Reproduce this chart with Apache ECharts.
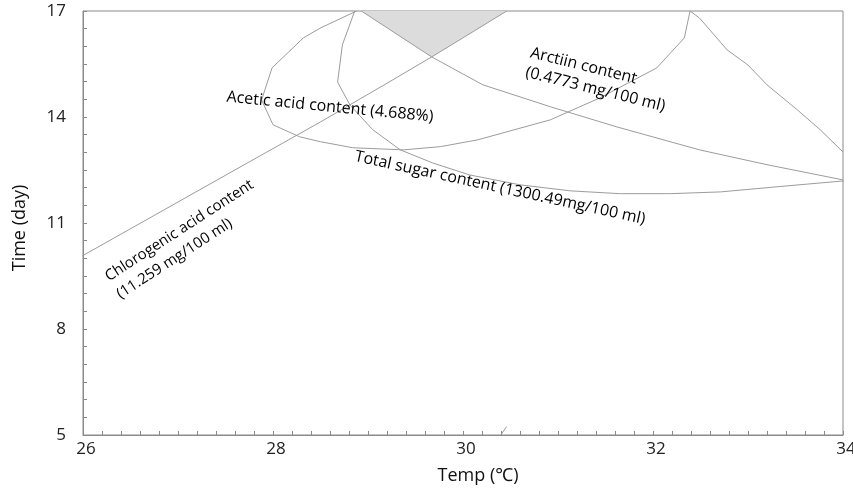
<!DOCTYPE html>
<html>
<head>
<meta charset="utf-8">
<script src="https://cdn.jsdelivr.net/npm/echarts@6/dist/echarts.min.js"></script>
<style>
html,body{margin:0;padding:0;background:#fff;}
#chart{width:853px;height:495px;}
</style>
</head>
<body>
<div id="chart"></div>
<script>
// Axis ticks
const xTickValues = [26, 28, 30, 32, 34];
const yTickValues = [5, 8, 11, 14, 17];

// Contour: Chlorogenic acid content (11.259 mg/100 ml)
const chloroTemp = [25.94, 27.79, 28.50, 29.26, 29.67, 30.00, 30.46];
const chloroDay  = [9.99, 12.79, 13.86, 15.05, 15.70, 16.24, 17.00];

// Contour: Arctiin content (0.4773 mg/100 ml)
const arctiinTemp = [28.93, 29.67, 30.21, 30.92, 31.62, 32.49, 33.20, 34.00];
const arctiinDay  = [17.00, 15.70, 14.91, 14.29, 13.72, 13.07, 12.65, 12.22];

// Contour: Acetic acid content (4.688%)
const aceticTemp = [28.88, 28.50, 28.32, 27.99, 27.88, 28.00, 28.28, 28.50, 28.84, 29.37, 29.76, 30.15, 30.92, 31.44, 32.04, 32.33, 32.39];
const aceticDay  = [17.00, 16.52, 16.24, 15.39, 14.48, 13.78, 13.44, 13.30, 13.13, 13.07, 13.16, 13.35, 13.92, 14.54, 15.39, 16.24, 17.00];

// Contour: right branch peak
const peakTemp = [32.39, 32.49, 32.78, 33.00, 33.20, 33.52, 33.76, 34.00];
const peakDay  = [17.00, 16.80, 15.90, 15.47, 14.91, 14.20, 13.64, 13.01];

// Contour: Total sugar content (1300.49mg/100 ml)
const sugarTemp = [28.86, 28.73, 28.68, 28.81, 29.05, 29.34, 29.68, 30.07, 30.60, 31.13, 31.65, 32.18, 32.71, 33.41, 34.00, 34.10];
const sugarDay  = [17.00, 16.04, 14.99, 14.34, 13.64, 13.07, 12.70, 12.36, 12.08, 11.91, 11.83, 11.83, 11.88, 12.05, 12.19, 12.21];

// Overlapping (optimal) region
const shadeTemp = [28.93, 30.46, 29.67];
const shadeDay  = [17.00, 17.00, 15.70];

// Small stray stroke at bottom
const strokeTemp = [30.40, 30.46];
const strokeDay  = [5.01, 5.24];

const pairs = (xs, ys) => xs.map((x, i) => [x, ys[i]]);
const lineColor = '#9c9c9c';
const fontFam = '"Open Sans", "Noto Sans", sans-serif';

function lineSeries(xs, ys, clip) {
  return {
    type: 'line', data: pairs(xs, ys), showSymbol: false, symbol: 'none',
    smooth: false, clip: clip, silent: true,
    lineStyle: { color: lineColor, width: 1 }, z: 3
  };
}

const chart = echarts.init(document.getElementById('chart'), null, { renderer: 'canvas' });
const deg = Math.PI / 180;

const option = {
  animation: false,
  backgroundColor: '#ffffff',
  grid: { left: 83, right: 10, top: 11, bottom: 60, show: true, borderColor: '#8a8a8a', borderWidth: 1,
          containLabel: false, outerBoundsMode: 'none' },
  xAxis: {
    type: 'value', min: 26, max: 34, interval: 2,
    name: 'Temp (\u2103)', nameLocation: 'middle', nameGap: 32,
    nameTextStyle: { fontSize: 18, color: '#111', fontFamily: fontFam, padding: [0, 0, 0, 30] },
    axisLine: { show: true, lineStyle: { color: '#8a8a8a', width: 1 } },
    axisTick: { show: true, inside: true, length: 4, lineStyle: { color: '#8a8a8a' } },
    minorTick: { show: true, splitNumber: 10, length: 4, lineStyle: { color: '#8a8a8a' } },
    splitLine: { show: false },
    axisLabel: {
      fontSize: 17, color: '#222', fontFamily: fontFam, margin: 6, padding: [0, 0, 0, 6],
      hideOverlap: false, showMinLabel: true, showMaxLabel: true,
      customValues: xTickValues
    }
  },
  yAxis: {
    type: 'value', min: 5, max: 17, interval: 3,
    name: 'Time (day)', nameLocation: 'middle', nameGap: 54, nameRotate: 90,
    nameTextStyle: { fontSize: 18, color: '#111', fontFamily: fontFam, padding: [0, 10, 0, 0] },
    axisLine: { show: true, lineStyle: { color: '#8a8a8a', width: 1 } },
    axisTick: { show: true, inside: true, length: 4, lineStyle: { color: '#8a8a8a' } },
    minorTick: { show: true, splitNumber: 6, length: 4, lineStyle: { color: '#8a8a8a' } },
    splitLine: { show: false },
    axisLabel: {
      fontSize: 17, color: '#222', fontFamily: fontFam, margin: 17, padding: [6, 0, 0, 0],
      customValues: yTickValues
    }
  },
  series: [
    {
      type: 'custom', silent: true, z: 1,
      data: [[shadeTemp[0], shadeDay[0]]],
      renderItem: function (params, api) {
        return {
          type: 'polygon',
          shape: { points: shadeTemp.map((t, i) => api.coord([t, shadeDay[i]])) },
          style: { fill: '#dcdcdc', stroke: null }
        };
      }
    },
    lineSeries(chloroTemp, chloroDay, false),
    lineSeries(arctiinTemp, arctiinDay, true),
    lineSeries(aceticTemp, aceticDay, true),
    lineSeries(peakTemp, peakDay, true),
    lineSeries(sugarTemp, sugarDay, false),
    lineSeries(strokeTemp, strokeDay, true)
  ],
  graphic: [
    {
      type: 'text', x: 330, y: 107, rotation: -5.5 * deg, z: 10,
      style: { text: 'Acetic acid content (4.688%)', x: 0, y: 0, align: 'center', verticalAlign: 'middle',
               fontSize: 16, fill: '#000', fontFamily: fontFam }
    },
    {
      type: 'text', x: 533, y: 43, rotation: -14 * deg, z: 10,
      style: { text: 'Arctiin content\n(0.4773 mg/100 ml)', x: 0, y: 0, align: 'left', verticalAlign: 'top',
               fontSize: 16, lineHeight: 20, fill: '#000', fontFamily: fontFam }
    },
    {
      type: 'text', x: 500, y: 188, rotation: -12.3 * deg, z: 10,
      style: { text: 'Total sugar content (1300.49mg/100 ml)', x: 0, y: 0, align: 'center', verticalAlign: 'middle',
               fontSize: 16, fill: '#000', fontFamily: fontFam }
    },
    {
      type: 'text', x: 101, y: 269, rotation: 33 * deg, z: 10,
      style: { text: 'Chlorogenic acid content\n(11.259 mg/100 ml)', x: 0, y: 0, align: 'left', verticalAlign: 'top',
               fontSize: 15, lineHeight: 21, fill: '#000', fontFamily: fontFam }
    }
  ]
};

chart.setOption(option);
</script>
</body>
</html>
